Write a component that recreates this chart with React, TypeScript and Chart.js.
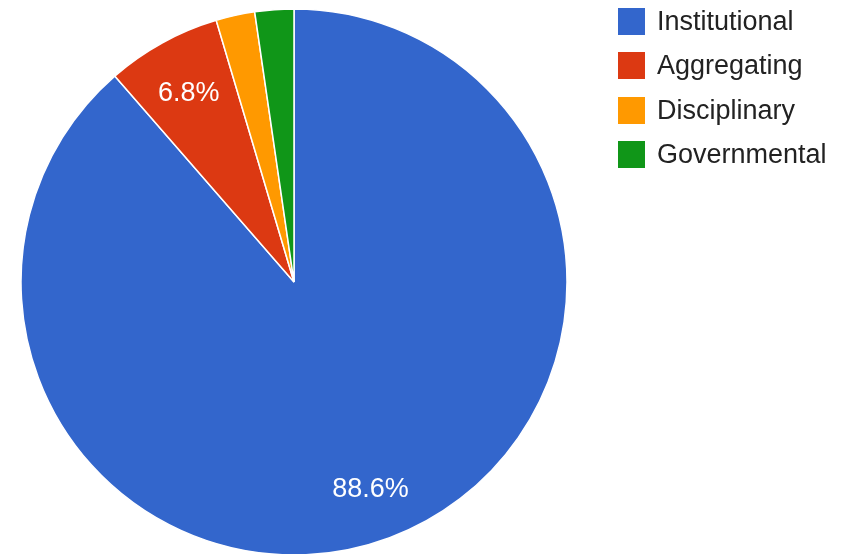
import React, { useEffect, useRef } from "react";
import { Chart, registerables } from "chart.js";

Chart.register(...registerables);

const categories = ["Institutional", "Aggregating", "Disciplinary", "Governmental"];
const values = [88.6, 6.8, 2.3, 2.3];
const colors = ["#3366CC", "#DC3912", "#FF9900", "#109618"];

const FONT = '"Liberation Sans", Arial, Helvetica, sans-serif';

const sliceLabels = {
  id: "sliceLabels",
  afterDatasetsDraw(chart: any) {
    const ctx = chart.ctx;
    const meta = chart.getDatasetMeta(0);
    const data = chart.data.datasets[0].data as number[];
    const total = data.reduce((a, b) => a + b, 0);
    ctx.save();
    ctx.fillStyle = "#ffffff";
    ctx.font = `27px ${FONT}`;
    ctx.textAlign = "center";
    ctx.textBaseline = "middle";
    meta.data.forEach((arc: any, i: number) => {
      const pct = (data[i] / total) * 100;
      if (pct < 5) return;
      const p = arc.getProps(["x", "y", "startAngle", "endAngle", "outerRadius"], true);
      const mid = (p.startAngle + p.endAngle) / 2;
      const r = p.outerRadius * 0.8;
      ctx.fillText(pct.toFixed(1) + "%", p.x + Math.cos(mid) * r, p.y + Math.sin(mid) * r + 3);
    });
    ctx.restore();
  },
};

export default function App() {
  const ref = useRef<HTMLCanvasElement | null>(null);
  useEffect(() => {
    if (!ref.current) return;
    const chart = new Chart(ref.current, {
      type: "pie",
      data: {
        labels: categories,
        datasets: [
          {
            data: values,
            backgroundColor: colors,
            borderColor: "#ffffff",
            borderWidth: 1.5,
            radius: 273,
          } as any,
        ],
      },
      options: {
        animation: false,
        responsive: false,
        layout: { padding: { left: 21, right: 281, top: 10, bottom: 0 } },
        plugins: {
          legend: { display: false },
          tooltip: { enabled: false },
        },
      },
      plugins: [sliceLabels],
    });
    return () => chart.destroy();
  }, []);

  return (
    <div style={{ position: "fixed", left: 0, top: 0, width: 848, height: 554, background: "#fff", overflow: "hidden" }}>
      <canvas ref={ref} width={848} height={554} style={{ width: 848, height: 554, display: "block" }} />
      {categories.map((c, i) => (
        <div
          key={c}
          style={{
            position: "absolute",
            left: 618,
            top: 8 + i * 44.3,
            height: 27,
            display: "flex",
            alignItems: "center",
            fontFamily: FONT,
            fontSize: 27,
            color: "#222",
            whiteSpace: "nowrap",
          }}
        >
          <span style={{ display: "inline-block", width: 27, height: 27, background: colors[i], marginRight: 12, flex: "none" }} />
          <span>{c}</span>
        </div>
      ))}
    </div>
  );
}
